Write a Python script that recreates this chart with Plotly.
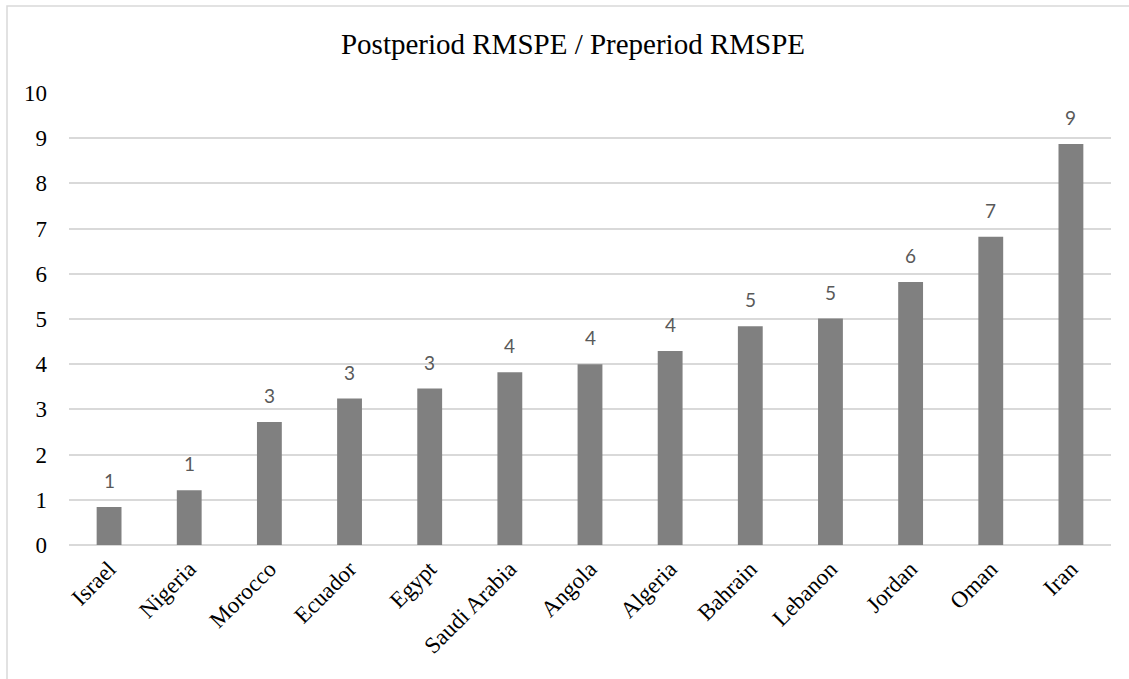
import plotly.graph_objects as go

countries = ["Israel", "Nigeria", "Morocco", "Ecuador", "Egypt", "Saudi Arabia", "Angola",
             "Algeria", "Bahrain", "Lebanon", "Jordan", "Oman", "Iran"]
ratios = [0.84, 1.21, 2.72, 3.24, 3.46, 3.82, 4.0, 4.29, 4.84, 5.01, 5.82, 6.82, 8.87]
y_ticks = [0, 1, 2, 3, 4, 5, 6, 7, 8, 9, 10]

W, H = 1129, 679
L, R, T, B = 69, 18, 93, 134
pw = W - L - R
ph = H - T - B
serif = "Liberation Serif, Times New Roman, serif"

fig = go.Figure()
fig.add_trace(go.Bar(
    x=countries, y=ratios,
    marker=dict(color="#808080", line=dict(width=0)),
    width=0.31,
    hoverinfo="skip",
))

for c, v in zip(countries, ratios):
    fig.add_annotation(x=c, y=v, text=f"{v:.0f}", showarrow=False,
                       yanchor="bottom", yshift=13,
                       font=dict(family="Lato, Liberation Sans, sans-serif", size=19, color="#595959"))

fig.update_layout(
    width=W, height=H,
    margin=dict(l=L, r=R, t=T, b=B),
    paper_bgcolor="white", plot_bgcolor="white",
    showlegend=False,
    title=dict(text="Postperiod RMSPE / Preperiod RMSPE",
               font=dict(family=serif, size=29, color="#000000"),
               x=(573 - L) / pw, xanchor="center", xref="paper", y=1 - 44 / H, yanchor="middle"),
    xaxis=dict(tickangle=-45, showgrid=False, showline=False, zeroline=False,
               tickfont=dict(family=serif, size=23, color="#000000"),
               ticks="", ticklabelstandoff=5),
    yaxis=dict(range=[0, 10], tickvals=y_ticks, showgrid=True, gridcolor="#d9d9d9", gridwidth=1.5,
               zeroline=True, zerolinecolor="#d9d9d9", zerolinewidth=1.5, showline=False,
               tickfont=dict(family=serif, size=23, color="#000000"),
               ticks="", ticklabelstandoff=21),
    shapes=[dict(type="rect", xref="paper", yref="paper",
                 x0=(7 - L) / pw, x1=(W + 10 - L) / pw,
                 y0=(H - B - (H + 10)) / ph, y1=(H - B - 6) / ph,
                 line=dict(color="#d9d9d9", width=1.5), fillcolor="rgba(0,0,0,0)", layer="below")],
)

fig.write_html("out.html", config={"displayModeBar": False},
               post_script="document.body.style.margin='0';")
